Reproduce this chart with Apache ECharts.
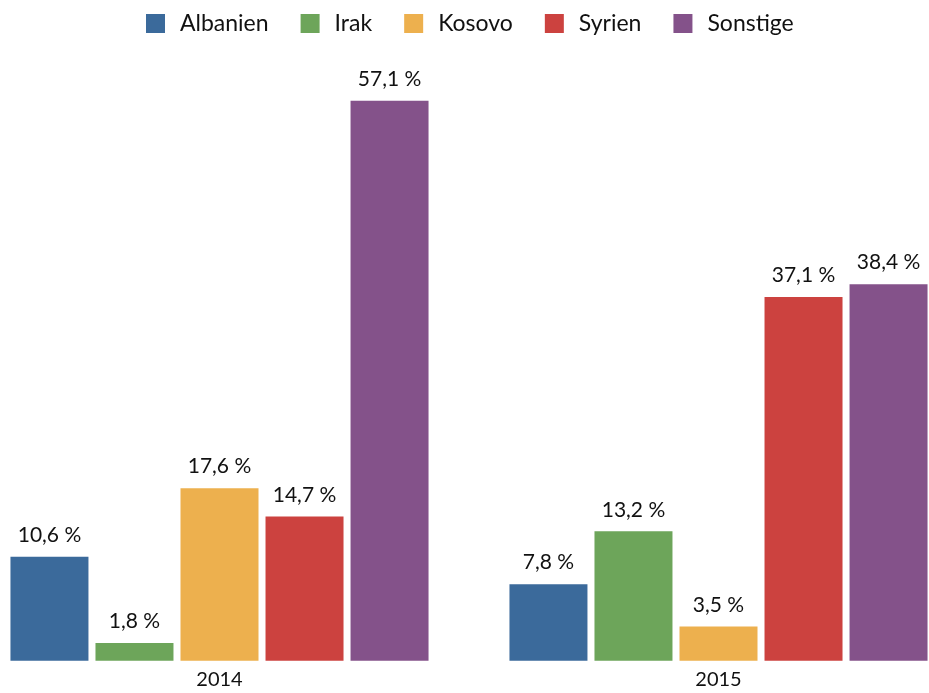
<!DOCTYPE html>
<html>
<head>
<meta charset="utf-8">
<script src="https://cdn.jsdelivr.net/npm/echarts@6/dist/echarts.min.js"></script>
<style>html,body{margin:0;padding:0;background:#fff}#c{width:929px;height:693px}</style>
</head>
<body>
<div id="c"></div>
<script>
const years = ['2014', '2015'];
const seriesNames = ['Albanien', 'Irak', 'Kosovo', 'Syrien', 'Sonstige'];
const albanien = [10.6, 7.8];
const irak = [1.8, 13.2];
const kosovo = [17.6, 3.5];
const syrien = [14.7, 37.1];
const sonstige = [57.1, 38.4];
const colors = ['#3b6a9b', '#6da55a', '#edb04e', '#cc423f', '#84528a'];

const values = [albanien, irak, kosovo, syrien, sonstige];
const font = 'Lato';
const chart = echarts.init(document.getElementById('c'));
chart.setOption({
  animation: false,
  color: colors,
  legend: {
    top: 12,
    left: 146,
    padding: 0,
    itemWidth: 19,
    itemHeight: 19,
    itemGap: 32,
    icon: 'rect',
    textStyle: { fontFamily: font, fontSize: 23, color: '#111', padding: [0, 0, 0, 10] },
    data: seriesNames
  },
  grid: { left: -30, right: -39, top: 72.4, bottom: 32.3, outerBoundsMode: 'none', containLabel: false },
  xAxis: {
    type: 'category',
    data: years,
    axisLine: { show: false },
    axisTick: { show: false },
    axisLabel: { fontFamily: font, fontSize: 20, color: '#111', margin: 9 }
  },
  yAxis: {
    type: 'value', min: 0, max: 60, show: false,
    splitLine: { show: false }
  },
  series: seriesNames.map((n, i) => ({
    name: n,
    type: 'bar',
    data: values[i],
    barWidth: 78,
    barGap: '9%',
    label: {
      show: true,
      position: 'top',
      distance: 11,
      fontFamily: font,
      fontSize: 21,
      color: '#111',
      formatter: p => p.value.toFixed(1).replace('.', ',') + ' %'
    }
  }))
});
</script>
</body>
</html>
